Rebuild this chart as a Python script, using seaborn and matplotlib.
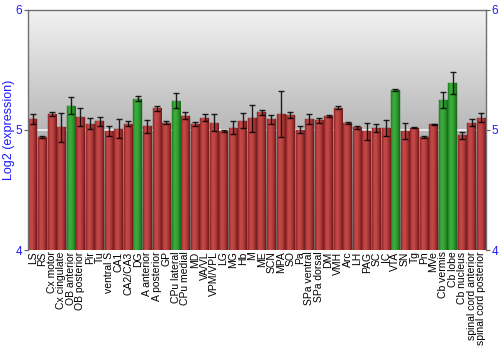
import numpy as np
import pandas as pd
import matplotlib
matplotlib.use("Agg")
import matplotlib.pyplot as plt
import seaborn as sns
from matplotlib.colors import LinearSegmentedColormap

regions = ["LS", "RS", "Cx motor", "Cx cingulate", "OB anterior", "OB posterior", "Pir", "Tu",
           "ventral S", "CA1", "CA2/CA3", "DG", "A anterior", "A posterior", "GP", "CPu lateral",
           "CPu medial", "MD", "VA/VL", "VPM/VPL", "LG", "MG", "Hb", "M", "ME", "SCN", "MPA", "SO",
           "Pa", "SPa ventral", "SPa dorsal", "DM", "VMH", "Arc", "LH", "PAG", "SC", "IC", "VTA",
           "SN", "Tg", "Pn", "MVe", "Cb vermis", "Cb lobe", "Cb nucleus", "spinal cord anterior",
           "spinal cord posterior"]
expression = [5.09, 4.94, 5.13, 5.02, 5.20, 5.11, 5.05, 5.07,
              4.99, 5.01, 5.05, 5.26, 5.03, 5.18, 5.06, 5.24,
              5.117, 5.045, 5.10, 5.06, 4.99, 5.017, 5.075, 5.094, 5.147, 5.086, 5.133, 5.12,
              5.00, 5.089, 5.078, 5.114, 5.183, 5.056, 5.02, 4.986, 5.014, 5.014, 5.328,
              4.99, 5.017, 4.94, 5.045, 5.25, 5.39, 4.953, 5.058, 5.10]
error = [0.04, 0.01, 0.015, 0.12, 0.07, 0.075, 0.045, 0.04,
         0.045, 0.08, 0.02, 0.024, 0.053, 0.02, 0.015, 0.0625,
         0.03, 0.017, 0.03, 0.07, 0.007, 0.054, 0.0625, 0.11, 0.02, 0.04, 0.19, 0.026,
         0.03, 0.04, 0.018, 0.01, 0.011, 0.011, 0.015, 0.07, 0.03, 0.064, 0.008,
         0.065, 0.005, 0.01, 0.004, 0.068, 0.09, 0.028, 0.028, 0.039]
highlight = ["OB anterior", "DG", "CPu lateral", "VTA", "Cb vermis", "Cb lobe"]

df = pd.DataFrame({"region": regions, "expression": expression,
                   "group": ["green" if r in highlight else "red" for r in regions]})

fig = plt.figure(figsize=(5, 3.5), dpi=100)
ax = fig.add_axes([0.056, 0.2857, 0.916, 0.687])

# background gradient
bg = np.linspace(0, 1, 256).reshape(-1, 1)
bg_cmap = LinearSegmentedColormap.from_list("bg", ["#f2f2f2", "#b8b8b8", "#7e7e7e"])
ax.imshow(bg, cmap=bg_cmap, extent=[0, 1, 0, 1], transform=ax.transAxes,
          aspect="auto", zorder=0, origin="upper")
ax.axhline(5, color="#f4f4f4", lw=1.2, zorder=0.5)

sns.barplot(data=df, x="region", y="expression", hue="group",
            palette={"red": "#b33a3a", "green": "#2f9a2f"}, dodge=False,
            errorbar=None, width=0.9, legend=False, ax=ax, zorder=2)

ax.set_ylim(4, 6)
ax.set_xlim(-0.5, len(regions) - 0.5)

red_cmap = LinearSegmentedColormap.from_list("r", ["#8e2626", "#c44848", "#c04646", "#a33232", "#6e1a1a"])
green_cmap = LinearSegmentedColormap.from_list("g", ["#217e21", "#3cae3c", "#38a838", "#2a8f2a", "#196419"])
grad = np.linspace(0, 1, 64).reshape(1, -1)
for p in ax.patches:
    x0, w = p.get_x(), p.get_width()
    h = p.get_height()
    xc = x0 + w / 2
    idx = int(round(xc))
    if 0 <= idx < len(regions):
        cm = green_cmap if regions[idx] in highlight else red_cmap
        im = ax.imshow(grad, cmap=cm, extent=[x0, x0 + w, 4, p.get_y() + h],
                       aspect="auto", zorder=2.5, origin="lower")
        im.set_clip_path(p)
        p.set_edgecolor("#6a2a2a" if cm is red_cmap else "#1e6a1e")
        p.set_linewidth(0.3)

ax.errorbar(x=np.arange(len(regions)), y=expression, yerr=error, fmt="none",
            ecolor="black", elinewidth=1, capsize=2.5, capthick=1, zorder=4, alpha=0.85)

ax.set_yticks([4, 5, 6])
ax.set_yticklabels(["4", "5", "6"])
ax.tick_params(axis="y", colors="#606060", labelcolor="#1a1aff", labelsize=8.5,
               left=True, right=True, labelleft=True, labelright=True, length=3, width=0.8, pad=1)
ax.tick_params(axis="x", length=0, labelsize=7.5, pad=1)
ax.set_xticks(range(len(regions)))
ax.set_xticklabels(regions, rotation=90, fontfamily="Liberation Sans")
for lab in ax.get_yticklabels():
    lab.set_fontfamily("Liberation Sans")
ax.set_xlabel("")
ax.set_ylabel("Log2 (expression)", color="#1a1aff", fontsize=9, fontfamily="Liberation Sans")
ax.yaxis.set_label_coords(-0.029, 0.5)

for s in ["left", "right", "top"]:
    ax.spines[s].set_color("#707070")
    ax.spines[s].set_linewidth(1)
ax.spines["bottom"].set_visible(False)
ax.grid(False)

fig.savefig("out.png", dpi=100)
